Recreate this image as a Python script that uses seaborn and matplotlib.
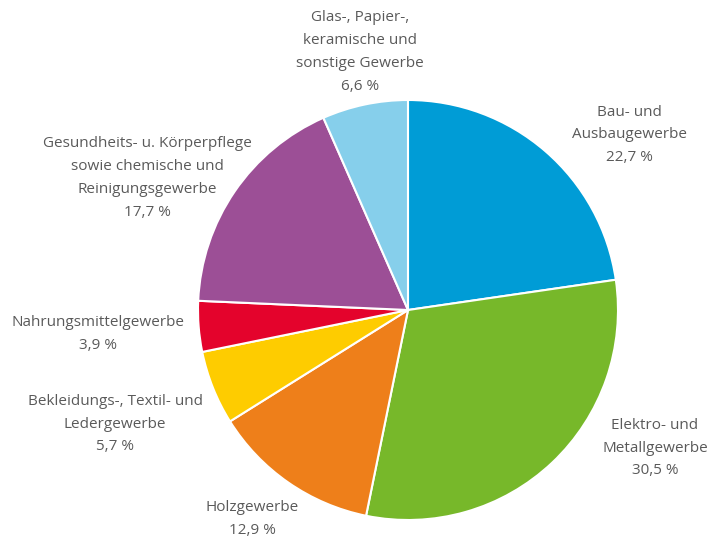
import matplotlib
matplotlib.use("Agg")
import matplotlib.pyplot as plt
import seaborn as sns

sns.set_theme(style="white")
plt.rcParams["font.family"] = ["Open Sans", "DejaVu Sans"]

# Anteile der Gewerbegruppen (im Uhrzeigersinn ab 12 Uhr)
categories = [
    "Bau- und\nAusbaugewerbe",
    "Elektro- und\nMetallgewerbe",
    "Holzgewerbe",
    "Bekleidungs-, Textil- und\nLedergewerbe",
    "Nahrungsmittelgewerbe",
    "Gesundheits- u. Körperpflege\nsowie chemische und\nReinigungsgewerbe",
    "Glas-, Papier-,\nkeramische und\nsonstige Gewerbe",
]
shares = [22.7, 30.5, 12.9, 5.7, 3.9, 17.7, 6.6]
value_labels = ["22,7 %", "30,5 %", "12,9 %", "5,7 %", "3,9 %", "17,7 %", "6,6 %"]
colors = ["#009cd6", "#77b82a", "#ee7f1a", "#fecc00", "#e4032c", "#9c4f96", "#86cfeb"]

# Lage der Beschriftungen (Pixel, Ursprung oben links)
label_pos = [(629, 135), (655, 448), (252, 519), (115, 424), (98, 334), (147, 178), (360, 52)]

W, H = 722, 540
fig = plt.figure(figsize=(W / 100, H / 100), dpi=100)
ax = fig.add_axes([0, 0, 1, 1])

ax.pie(
    shares,
    colors=colors,
    startangle=90,
    counterclock=False,
    center=(408, H - 310),
    radius=210,
    wedgeprops=dict(edgecolor="white", linewidth=1.5),
    frame=True,
)
ax.set_xlim(0, W)
ax.set_ylim(0, H)
ax.set_aspect("equal")
ax.axis("off")

for name, val, (x, y) in zip(categories, value_labels, label_pos):
    ax.text(x, H - y, f"{name}\n{val}", ha="center", va="center",
            fontsize=11, color="#5a5a5a", linespacing=1.7)

fig.savefig("out.png", dpi=100, facecolor="white")
